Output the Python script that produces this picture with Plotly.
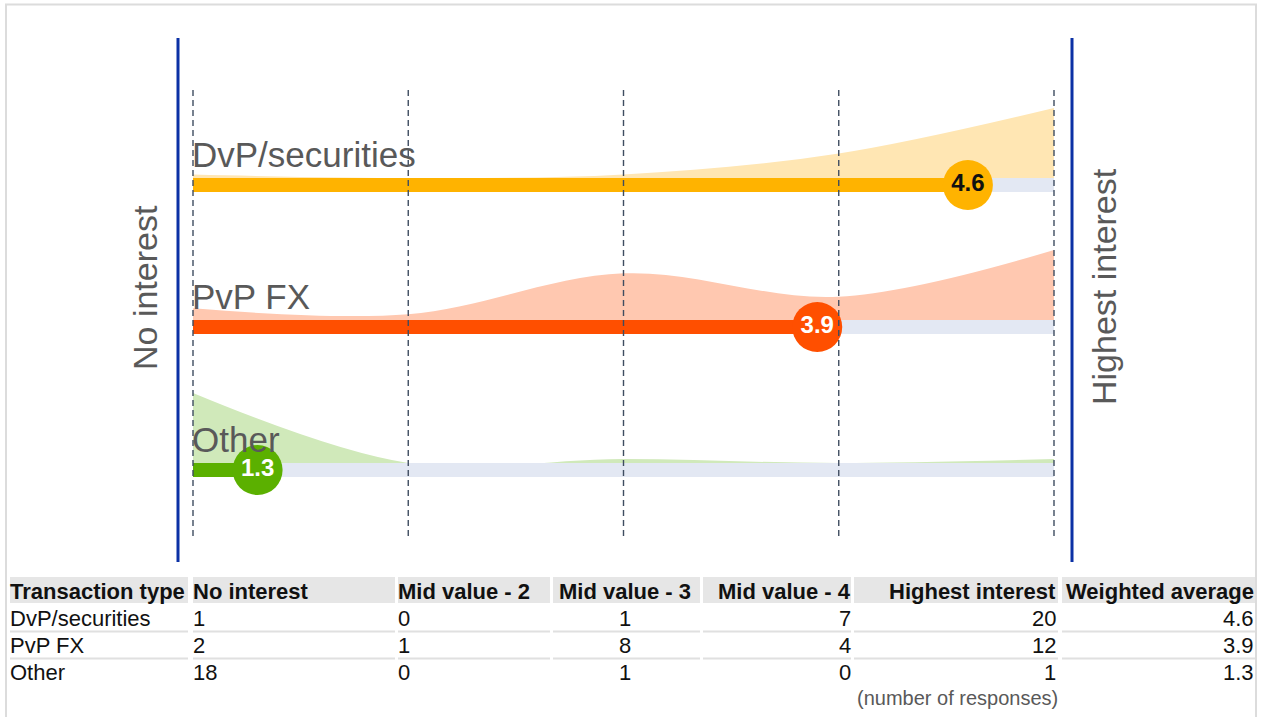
import plotly.graph_objects as go

# ---------------- data ----------------
categories = ["DvP/securities", "PvP FX", "Other"]
scale_points = [1, 2, 3, 4, 5]
scale_labels = ["No interest", "Mid value - 2", "Mid value - 3", "Mid value - 4", "Highest interest"]
dvp_counts = [1, 0, 1, 7, 20]
pvp_counts = [2, 1, 8, 4, 12]
other_counts = [18, 0, 1, 0, 1]
weighted_avg = [4.6, 3.9, 1.3]
counts = [dvp_counts, pvp_counts, other_counts]

# ---------------- styles ----------------
W, H = 1263, 717
bar_colors = ["#FFB300", "#FF4F00", "#5BB000"]
area_colors = ["#FFE6B3", "#FFC8B0", "#D0E9BA"]
circle_text_colors = ["#111111", "#FFFFFF", "#FFFFFF"]
track_color = "#E3E8F3"
row_top = [178, 320, 463]      # pixel rows (y axis in pixels, top=0)
bar_h = 14
area_h = 70
FONT = "Liberation Sans, Arial, sans-serif"
TXT = "#595959"

X0PX, UNIT = 193, 215.25


def px2x(px):
    return 1 + (px - X0PX) / UNIT


fig = go.Figure()

# distribution areas
for i, c in enumerate(counts):
    m = max(c)
    base = [row_top[i]] * len(scale_points)
    fig.add_trace(go.Scatter(x=scale_points, y=base, mode="lines",
                             line=dict(width=0, color=area_colors[i]),
                             hoverinfo="skip", showlegend=False))
    fig.add_trace(go.Scatter(x=scale_points, y=[row_top[i] - v / m * area_h for v in c],
                             mode="lines", line=dict(width=0, shape="spline", smoothing=1.0, color=area_colors[i]),
                             fill="tonexty", fillcolor=area_colors[i],
                             hoverinfo="skip", showlegend=False))

# tracks and bars
for i, v in enumerate(weighted_avg):
    t, b = row_top[i], row_top[i] + bar_h
    fig.add_trace(go.Scatter(x=[1, 5, 5, 1, 1], y=[t, t, b, b, t], mode="lines",
                             fill="toself", fillcolor=track_color, line=dict(width=0),
                             hoverinfo="skip", showlegend=False))
    fig.add_trace(go.Scatter(x=[1, v, v, 1, 1], y=[t, t, b, b, t], mode="lines",
                             fill="toself", fillcolor=bar_colors[i], line=dict(width=0),
                             hoverinfo="skip", showlegend=False))

# value circles
for i, v in enumerate(weighted_avg):
    fig.add_trace(go.Scatter(x=[v], y=[row_top[i] + bar_h / 2], mode="markers+text",
                             marker=dict(size=50, color=bar_colors[i], line=dict(width=0)),
                             text=[f"<b>{v:.1f}</b>"], textposition="middle center",
                             textfont=dict(family=FONT, size=24, color=circle_text_colors[i]),
                             hoverinfo="skip", showlegend=False))

shapes = []
# outer border
shapes.append(dict(type="rect", xref="paper", yref="y", x0=6 / W, x1=1256 / W, y0=4.5, y1=730,
                   line=dict(color="#DCDCDC", width=2), fillcolor="rgba(0,0,0,0)", layer="below"))
# blue boundary lines
for px in (178, 1072):
    shapes.append(dict(type="line", xref="x", yref="y", x0=px2x(px), x1=px2x(px), y0=38, y1=562,
                       line=dict(color="#0B31A5", width=3), layer="above"))
# dashed scale lines
for p in scale_points:
    shapes.append(dict(type="line", xref="x", yref="y", x0=p, x1=p, y0=90, y1=540,
                       line=dict(color="#3E4C60", width=1.4, dash="6px,4px"), layer="above"))

annotations = []
# row labels
for i, cat in enumerate(categories):
    annotations.append(dict(x=1, y=row_top[i] - 2, xref="x", yref="y", text=cat, showarrow=False,
                            xanchor="left", yanchor="bottom", xshift=-3,
                            font=dict(family=FONT, size=35, color=TXT)))
# side titles
annotations.append(dict(x=px2x(145), y=288, xref="x", yref="y", text="No interest", textangle=-90,
                        showarrow=False, font=dict(family=FONT, size=34, color=TXT)))
annotations.append(dict(x=px2x(1104), y=287, xref="x", yref="y", text="Highest interest", textangle=-90,
                        showarrow=False, font=dict(family=FONT, size=34, color=TXT)))

# ---------------- table ----------------
header = ["Transaction type"] + scale_labels + ["Weighted average"]
col_anchor = [(10, "left"), (193, "left"), (398, "left"), (625, "center"),
              (851, "right"), (1056, "right"), (1254, "right")]
col_box = [(10, 188), (193, 395), (398, 550), (553, 700), (703, 851), (854, 1058), (1062, 1255)]
shift = {"left": -2, "center": 0, "right": 2}
header_y = 591
row_y = [618, 645, 672]
sep_y = [631.5, 658.5]

for (a, b) in col_box:
    shapes.append(dict(type="rect", xref="paper", yref="y", x0=a / W, x1=b / W, y0=577, y1=603,
                       fillcolor="#E6E6E6", line=dict(width=0), layer="below"))
    for sy in sep_y:
        shapes.append(dict(type="line", xref="paper", yref="y", x0=a / W, x1=b / W, y0=sy, y1=sy,
                           line=dict(color="#E0E0E0", width=2), layer="below"))

for j, h in enumerate(header):
    px, al = col_anchor[j]
    annotations.append(dict(x=px / W, y=header_y, xref="paper", yref="y", text=f"<b>{h}</b>",
                            showarrow=False, xanchor=al, yanchor="middle", xshift=shift[al],
                            font=dict(family=FONT, size=22, color="#111111")))

for i, cat in enumerate(categories):
    cells = [cat] + [str(v) for v in counts[i]] + [f"{weighted_avg[i]:.1f}"]
    for j, ctext in enumerate(cells):
        px, al = col_anchor[j]
        annotations.append(dict(x=px / W, y=row_y[i], xref="paper", yref="y", text=ctext,
                                showarrow=False, xanchor=al, yanchor="middle", xshift=shift[al],
                                font=dict(family=FONT, size=22, color="#111111")))

annotations.append(dict(x=957 / W, y=698, xref="paper", yref="y", text="(number of responses)",
                        showarrow=False, xanchor="center", yanchor="middle",
                        font=dict(family=FONT, size=20, color=TXT)))

fig.update_layout(
    width=W, height=H, margin=dict(l=0, r=0, t=0, b=0),
    paper_bgcolor="white", plot_bgcolor="white",
    xaxis=dict(range=[px2x(0), px2x(W)], visible=False, fixedrange=True),
    yaxis=dict(range=[H, 0], visible=False, fixedrange=True),
    shapes=shapes, annotations=annotations, showlegend=False,
)

fig.write_html("out.html", config={"displayModeBar": False},
               post_script="document.body.style.margin='0';document.body.style.overflow='hidden';")
